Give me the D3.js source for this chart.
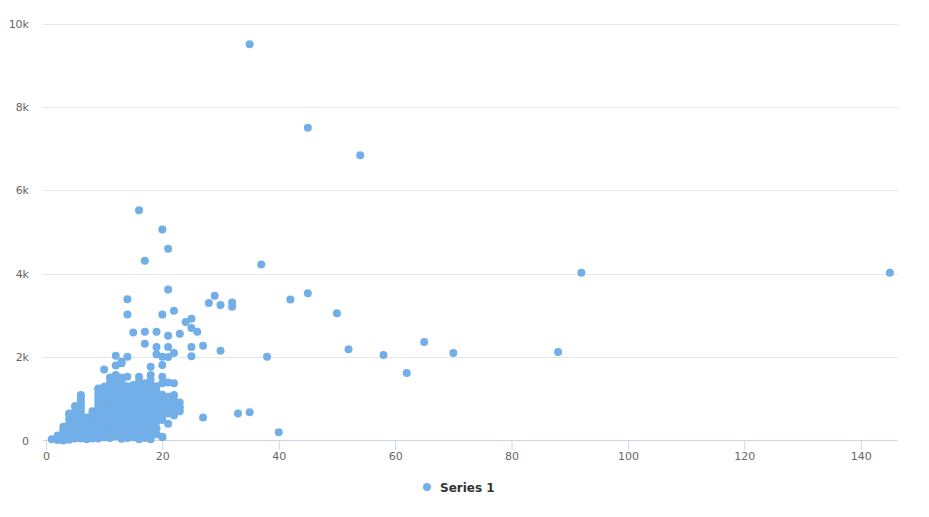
<!DOCTYPE html>
<html>
<head>
<meta charset="utf-8">
<script src="https://cdn.jsdelivr.net/npm/d3@7"></script>
<style>
  html, body { margin: 0; padding: 0; background: #fff; }
  text { font-family: "DejaVu Sans", "Lucida Grande", Arial, sans-serif; }
</style>
</head>
<body>
<div id="chart"></div>
<script>
// Series 1 points, [x, y]
const series1 = [
  // far / high points
  [35, 9500], [45, 7500], [54, 6840], [16, 5520], [20, 5060], [21, 4600], [17, 4310],
  [37, 4220], [92, 4020], [145, 4020], [21, 3620], [29, 3470], [28, 3300], [30, 3250],
  [32, 3310], [32, 3210], [42, 3380], [45, 3530], [50, 3050], [22, 3110], [20, 3020],
  [14, 3390], [14, 3020], [24, 2840], [25, 2920], [25, 2700], [26, 2610], [15, 2590],
  [17, 2610], [19, 2610], [21, 2510], [23, 2560], [17, 2320], [19, 2240], [21, 2240],
  [25, 2240], [27, 2270], [30, 2150], [52, 2190], [25, 2020], [38, 2010], [19, 2070],
  [20, 2010], [21, 2000], [22, 2100], [58, 2050], [65, 2360], [70, 2100], [88, 2120],
  [62, 1620], [27, 550], [33, 650], [35, 680], [40, 200], [20, 90],
  // middle band
  [12, 2030], [14, 2010], [13, 1890], [12, 1800], [13, 1850], [18, 1770], [20, 1810],
  [10, 1700], [11, 1510], [12, 1550], [13, 1510], [14, 1530], [16, 1530], [18, 1570],
  [20, 1530], [15, 1330], [17, 1370], [18, 1330], [20, 1370], [22, 1370], [16, 1310],
  [17, 1280], [9, 1230], [11, 1230], [12, 1280], [13, 1290], [12, 1250], [6, 1070],
  [6, 980], [9, 1040], [10, 1070], [13, 990], [19, 1170], [22, 1090], [15, 1090],
  [17, 1130], [20, 970], [21, 930], [23, 910], [22, 1070], [21, 1390], [22, 800],
  [21, 800], [9, 1250], [10, 1290], [11, 1290], [12, 1570],
  // dense cluster, left
  [1, 30], [2, 30], [2, 10], [2, 120], [3, 330], [3, 200], [3, 100], [3, 0], [3, 260],
  [4, 610], [4, 510], [4, 650], [4, 400], [4, 250], [4, 100], [4, 330], [4, 180], [4, 20],
  [5, 830], [5, 610], [5, 400], [5, 200], [5, 50], [5, 700], [5, 500], [5, 300], [5, 120],
  [6, 830], [6, 1090], [6, 770], [6, 600], [6, 400], [6, 200], [6, 50], [6, 900], [6, 680],
  [6, 500], [6, 300], [6, 120], [7, 550], [7, 400], [7, 250], [7, 100], [7, 480], [7, 320],
  [7, 170], [7, 30], [8, 570], [8, 700], [8, 400], [8, 200], [8, 50], [8, 630], [8, 480],
  [8, 320], [8, 130], [9, 770], [9, 600], [9, 400], [9, 200], [9, 50], [9, 1120], [9, 950],
  [9, 850], [9, 680], [9, 500], [9, 300], [9, 120],
  // dense cluster, right
  [10, 950], [10, 800], [10, 650], [10, 500], [10, 350], [10, 200], [10, 80],
  [10, 1170], [10, 880], [10, 720], [10, 570], [10, 420], [10, 270], [10, 140],
  [11, 1100], [11, 950], [11, 800], [11, 650], [11, 500], [11, 350], [11, 200], [11, 60],
  [11, 1380], [11, 1030], [11, 880], [11, 720], [11, 570], [11, 420], [11, 270], [11, 130],
  [12, 1150], [12, 1000], [12, 850], [12, 700], [12, 550], [12, 400], [12, 250], [12, 100],
  [12, 1400], [12, 1080], [12, 920], [12, 770], [12, 620], [12, 470], [12, 320], [12, 170],
  [13, 1150], [13, 800], [13, 650], [13, 500], [13, 350], [13, 200], [13, 40],
  [13, 1400], [13, 1070], [13, 900], [13, 720], [13, 570], [13, 420], [13, 280], [13, 120],
  [14, 1150], [14, 1000], [14, 850], [14, 700], [14, 550], [14, 400], [14, 210], [14, 60],
  [14, 1300], [14, 1080], [14, 920], [14, 770], [14, 620], [14, 470], [14, 300],
  [15, 1200], [15, 950], [15, 800], [15, 650], [15, 500], [15, 350], [15, 200], [15, 80],
  [15, 1020], [15, 880], [15, 720], [15, 570], [15, 420], [15, 280],
  [16, 1200], [16, 1050], [16, 900], [16, 750], [16, 600], [16, 450], [16, 250], [16, 30],
  [16, 1420], [16, 1130], [16, 980], [16, 820], [16, 670], [16, 520], [16, 350], [16, 150],
  [17, 1000], [17, 850], [17, 700], [17, 550], [17, 400], [17, 170], [17, 60],
  [17, 1230], [17, 930], [17, 780], [17, 620], [17, 480], [17, 300],
  [18, 1200], [18, 1050], [18, 900], [18, 750], [18, 600], [18, 450], [18, 330], [18, 250],
  [18, 90], [18, 30], [18, 1450], [18, 1130], [18, 980], [18, 820], [18, 680], [18, 520],
  [18, 170], [19, 1000], [19, 850], [19, 730], [19, 550], [19, 290], [19, 150],
  [19, 1300], [19, 1080], [19, 920], [19, 800], [19, 640], [19, 450],
  [20, 850], [20, 650], [20, 490], [20, 80], [20, 1100], [20, 920], [20, 760], [20, 580],
  [21, 650], [21, 400], [21, 1050], [21, 870], [21, 720], [22, 600], [22, 950], [22, 700],
  [23, 700], [23, 800]
];

const xTicks = [0, 20, 40, 60, 80, 100, 120, 140];
const yTicks = [0, 2000, 4000, 6000, 8000, 10000];
const yTickLabels = ['0', '2k', '4k', '6k', '8k', '10k'];
const seriesName = 'Series 1';

const width = 929, height = 517;
const plot = { left: 43, right: 898, top: 23.5, bottom: 440.5 };
const color = '#72aee7';

const svg = d3.select('#chart')
  .append('svg')
  .attr('width', width)
  .attr('height', height);

const x = d3.scaleLinear().domain([-0.5, 146.4]).range([plot.left, plot.right]);
const y = d3.scaleLinear().domain([0, 10000]).range([plot.bottom, plot.top]);

// horizontal grid
svg.append('g')
  .selectAll('line')
  .data(yTicks.slice(1))
  .enter().append('line')
  .attr('x1', plot.left)
  .attr('x2', plot.right)
  .attr('y1', d => Math.round(y(d)) + 0.5)
  .attr('y2', d => Math.round(y(d)) + 0.5)
  .attr('stroke', '#e6e6e6')
  .attr('stroke-width', 1);

// y labels
svg.append('g')
  .selectAll('text')
  .data(yTicks)
  .enter().append('text')
  .attr('x', 29)
  .attr('y', d => y(d) + 4)
  .attr('text-anchor', 'end')
  .attr('font-size', 11)
  .attr('fill', '#666')
  .text((d, i) => yTickLabels[i]);

// x axis
const xAxis = d3.axisBottom(x)
  .tickValues(xTicks)
  .tickSize(10)
  .tickFormat(d3.format('d'));

const gx = svg.append('g')
  .attr('transform', `translate(0,${plot.bottom - 0.5})`)
  .call(xAxis);

gx.select('.domain')
  .attr('d', `M${plot.left},0.5H${plot.right}`)
  .attr('stroke', '#ccd6eb');
gx.selectAll('.tick line').attr('stroke', '#ccd6eb');
gx.selectAll('.tick text')
  .attr('y', 12)
  .attr('font-size', 11)
  .attr('fill', '#666')
  .attr('font-family', '"DejaVu Sans", "Lucida Grande", Arial, sans-serif');

// points
svg.append('g')
  .selectAll('circle')
  .data(series1)
  .enter().append('circle')
  .attr('cx', d => x(d[0]))
  .attr('cy', d => y(d[1]))
  .attr('r', 4)
  .attr('fill', color);

// legend
const legend = svg.append('g').attr('transform', 'translate(427,487)');
legend.append('circle').attr('r', 4).attr('fill', color);
legend.append('text')
  .attr('x', 13)
  .attr('y', 4.5)
  .attr('font-size', 12)
  .attr('font-weight', 'bold')
  .attr('fill', '#333')
  .text(seriesName);
</script>
</body>
</html>
